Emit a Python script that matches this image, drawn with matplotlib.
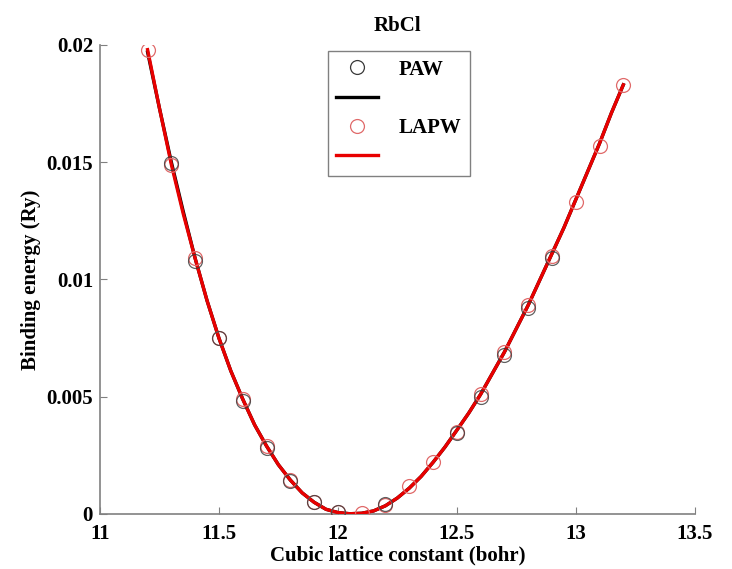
import matplotlib
matplotlib.use("Agg")
import matplotlib.pyplot as plt
from matplotlib.lines import Line2D

# ==================================================
# DATA
# ==================================================

# sampled points
paw_a = [11.3, 11.4, 11.5, 11.6, 11.7, 11.8, 11.9, 12.0, 12.2,
         12.5, 12.6, 12.7, 12.8, 12.9]
paw_e = [0.01495, 0.0108, 0.0075, 0.0048, 0.0028, 0.00140, 0.00052, 0.00010, 0.00042,
         0.00345, 0.0050, 0.0068, 0.0088, 0.0109]

lapw_a = [11.2, 11.3, 11.4, 11.5, 11.6, 11.7, 11.8, 11.9, 12.0, 12.1, 12.2, 12.3, 12.4,
          12.5, 12.6, 12.7, 12.8, 12.9, 13.0, 13.1, 13.2]
lapw_e = [0.0198, 0.0149, 0.0109, 0.0075, 0.0049, 0.0029, 0.00145, 0.0005, 0.00008, 0.00004,
          0.00038, 0.0012, 0.0022, 0.0035, 0.0051, 0.0069, 0.0089, 0.0110, 0.0133, 0.0157, 0.0183]

# fitted curves (every 0.05 bohr)
fit_a = [11.2, 11.25, 11.3, 11.35, 11.4, 11.45, 11.5, 11.55, 11.6, 11.65, 11.7,
         11.75, 11.8, 11.85, 11.9, 11.95, 12.0, 12.05, 12.1, 12.15, 12.2,
         12.25, 12.3, 12.35, 12.4, 12.45, 12.5, 12.55, 12.6, 12.65, 12.7,
         12.75, 12.8, 12.85, 12.9, 12.95, 13.0, 13.05, 13.1, 13.15, 13.2]
paw_fit = [0.0197, 0.0173, 0.0150, 0.0129, 0.0109, 0.0091, 0.0075, 0.0061, 0.0049, 0.0038, 0.0029,
           0.0021, 0.00145, 0.0009, 0.0005, 0.0002, 0.00006, 0.00001, 0.00003, 0.00013, 0.00035,
           0.00068, 0.0011, 0.0016, 0.0022, 0.00285, 0.00357, 0.0043, 0.0051, 0.0060, 0.0069,
           0.0079, 0.0089, 0.0100, 0.0111, 0.0122, 0.0134, 0.0146, 0.0158, 0.0171, 0.0183]
lapw_fit = [0.0198, 0.0173, 0.0149, 0.0128, 0.0109, 0.0091, 0.0075, 0.0061, 0.0049, 0.0038, 0.0029,
            0.0021, 0.00145, 0.0009, 0.0005, 0.0002, 0.00006, 0.00001, 0.00003, 0.00013, 0.00035,
            0.00068, 0.0011, 0.0016, 0.0022, 0.00285, 0.00357, 0.0043, 0.0051, 0.0060, 0.0069,
            0.0079, 0.0089, 0.0100, 0.0111, 0.0122, 0.0134, 0.0146, 0.0158, 0.0171, 0.0183]

x_ticks = [11, 11.5, 12, 12.5, 13, 13.5]
x_tick_labels = ["11", "11.5", "12", "12.5", "13", "13.5"]
y_ticks = [0, 0.005, 0.01, 0.015, 0.02]
y_tick_labels = ["0", "0.005", "0.01", "0.015", "0.02"]

# ==================================================
# PLOT
# ==================================================

plt.rcParams['font.family'] = ['Liberation Serif', 'DejaVu Serif']

fig = plt.figure(figsize=(7.32, 5.69), dpi=100)
ax = fig.add_axes([0.1366, 0.0967, 0.8124, 0.8243])

ax.plot(fit_a, paw_fit, color='black', lw=2.4, zorder=2)
ax.plot(fit_a, lapw_fit, color='#e80000', lw=2.4, zorder=3)

ax.plot(lapw_a, lapw_e, ls='none', marker='o', ms=10, mfc='none',
        mec='#e06a6a', mew=0.9, zorder=4)
ax.plot(paw_a, paw_e, ls='none', marker='o', ms=10, mfc='none',
        mec='#3a3a3a', mew=0.9, alpha=0.8, zorder=5)

ax.set_xlim(11, 13.5)
ax.set_ylim(0, 0.02)
ax.set_xticks(x_ticks)
ax.set_xticklabels(x_tick_labels, fontsize=15, fontweight='bold')
ax.set_yticks(y_ticks)
ax.set_yticklabels(y_tick_labels, fontsize=15, fontweight='bold')

for side in ['top', 'right']:
    ax.spines[side].set_visible(False)
for side in ['left', 'bottom']:
    ax.spines[side].set_color('#808080')
    ax.spines[side].set_linewidth(1.2)
ax.tick_params(direction='in', length=5, color='#808080')
ax.tick_params(axis='x', pad=7)
ax.tick_params(axis='y', pad=5)

ax.set_xlabel("Cubic lattice constant (bohr)", fontsize=15, fontweight='bold', labelpad=1)
ax.set_ylabel("Binding energy (Ry)", fontsize=15, fontweight='bold', labelpad=4)
ax.set_title("RbCl", fontsize=15, fontweight='bold', pad=10)

# MATLAB-style legend: marker and line on separate rows
handles = [
    Line2D([], [], ls='none', marker='o', ms=10, mfc='none', mec='#3a3a3a', mew=0.9),
    Line2D([], [], color='black', lw=2.4),
    Line2D([], [], ls='none', marker='o', ms=10, mfc='none', mec='#e06a6a', mew=0.9),
    Line2D([], [], color='#e80000', lw=2.4),
]
labels = ["PAW", " ", "LAPW", " "]
leg = ax.legend(handles, labels, loc='upper left', bbox_to_anchor=(0.448, 0.91),
                bbox_transform=fig.transFigure, fancybox=False, framealpha=1,
                edgecolor='#808080', prop={'size': 15, 'weight': 'bold'},
                handlelength=2.0, labelspacing=0.45, borderpad=0.4, handletextpad=1.0,
                borderaxespad=0)
leg.get_frame().set_linewidth(1.0)

plt.savefig("out.png", dpi=100)
